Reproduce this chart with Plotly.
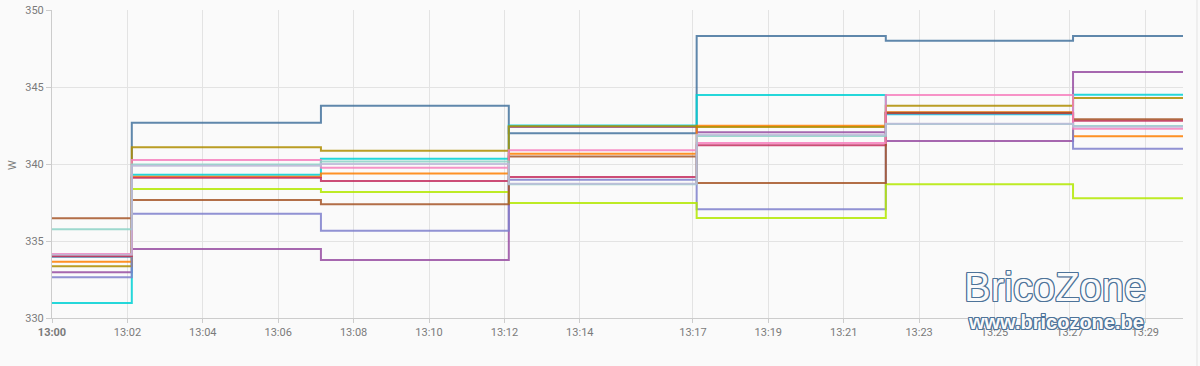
import plotly.graph_objects as go

# step change times (last entry = end of range, repeats last value)
times = ["2024-01-01 13:00:00", "2024-01-01 13:02:07", "2024-01-01 13:07:08",
         "2024-01-01 13:12:07", "2024-01-01 13:17:06", "2024-01-01 13:22:07",
         "2024-01-01 13:27:05", "2024-01-01 13:30:00"]

steel    = [333.98, 342.68, 343.79, 341.99, 348.31, 348.01, 348.31]
purple   = [332.97, 334.48, 333.77, 342.40, 342.06, 341.49, 345.97]
cyan     = [330.97, 339.31, 340.34, 342.50, 344.48, 343.23, 344.50]
orange   = [333.66, 339.18, 339.39, 340.67, 342.49, 343.36, 341.80]
olive    = [333.36, 341.08, 340.86, 342.45, 342.40, 343.79, 344.29]
lavender = [332.64, 336.77, 335.67, 338.98, 337.06, 343.28, 340.99]
lime     = [334.07, 338.38, 338.18, 337.47, 336.49, 338.68, 337.77]
crimson  = [334.03, 339.10, 338.90, 339.16, 341.21, 343.31, 342.81]
brown    = [336.47, 337.66, 337.38, 340.48, 338.77, 343.33, 342.90]
pink     = [334.16, 340.26, 339.76, 340.89, 341.36, 344.48, 342.29]
lightteal = [335.76, 339.96, 340.17, 338.68, 341.82, 342.60, 342.47]
lightlav = [334.10, 339.89, 340.00, 338.72, 341.90, 342.62, 342.42]

series = [
    ("steel", steel, "#44739e"),
    ("purple", purple, "#984ea3"),
    ("cyan", cyan, "#00d2d5"),
    ("orange", orange, "#ff7f00"),
    ("olive", olive, "#af8d00"),
    ("lavender", lavender, "#7f80cd"),
    ("lime", lime, "#b3e900"),
    ("crimson", crimson, "#c42e60"),
    ("brown", brown, "#a65628"),
    ("pink", pink, "#f781bf"),
    ("lightteal", lightteal, "#8dd3c7"),
    ("lightlav", lightlav, "#bebada"),
]

tick_vals = ["2024-01-01 13:00", "2024-01-01 13:02", "2024-01-01 13:04", "2024-01-01 13:06",
             "2024-01-01 13:08", "2024-01-01 13:10", "2024-01-01 13:12", "2024-01-01 13:14",
             "2024-01-01 13:17", "2024-01-01 13:19", "2024-01-01 13:21", "2024-01-01 13:23",
             "2024-01-01 13:25", "2024-01-01 13:27", "2024-01-01 13:29"]
tick_text = ["<b>13:00</b>", "13:02", "13:04", "13:06", "13:08", "13:10", "13:12", "13:14",
             "13:17", "13:19", "13:21", "13:23", "13:25", "13:27", "13:29"]

fig = go.Figure()
for name, vals, col in series:
    fig.add_trace(go.Scatter(
        x=times, y=vals + [vals[-1]], mode="lines", name=name,
        line=dict(shape="hv", width=2, color=col), opacity=0.85,
        showlegend=False))

grid = "#e3e3e3"
fig.update_layout(
    width=1200, height=366,
    margin=dict(l=52, r=17, t=10, b=48),
    paper_bgcolor="#fafafa", plot_bgcolor="#fafafa",
    font=dict(family="Roboto, sans-serif", size=11, color="#7a7a7a"),
    xaxis=dict(
        range=["2024-01-01 13:00:00", "2024-01-01 13:30:00"],
        tickvals=tick_vals, ticktext=tick_text, automargin=False,
        showgrid=True, gridcolor=grid, gridwidth=1,
        showline=True, linecolor="#cccccc", linewidth=1,
        ticks="outside", ticklen=4, tickcolor="#cccccc",
        zeroline=False),
    yaxis=dict(
        range=[330, 350], dtick=5, automargin=False,
        showgrid=True, gridcolor=grid, gridwidth=1,
        showline=True, linecolor="#cccccc", linewidth=1,
        ticks="outside", ticklen=5, tickcolor="#cccccc",
        zeroline=False),
)

# y-axis unit label
fig.add_annotation(text="W", xref="paper", yref="paper",
                   x=(12 - 52) / 1131, y=(318 - 165) / 308,
                   showarrow=False, textangle=-90, xanchor="center", yanchor="middle",
                   font=dict(family="Roboto, sans-serif", size=11, color="#7a7a7a"))

outline = ("1px 1px 0 #4d7399, -1px -1px 0 #4d7399, 1px -1px 0 #4d7399, -1px 1px 0 #4d7399, "
           "0 1px 0 #4d7399, 0 -1px 0 #4d7399, 1px 0 0 #4d7399, -1px 0 0 #4d7399")
fig.add_annotation(text="BricoZone", xref="paper", yref="paper",
                   x=(1055 - 52) / 1131, y=(318 - 287) / 308,
                   showarrow=False, xanchor="center", yanchor="middle",
                   font=dict(family="Liberation Sans, Arial", size=40, color="#fafafa",
                             shadow=outline))
fig.add_annotation(text="<b>www.bricozone.be</b>", xref="paper", yref="paper",
                   x=(1056 - 52) / 1131, y=(318 - 322) / 308,
                   showarrow=False, xanchor="center", yanchor="middle",
                   font=dict(family="Liberation Sans, Arial", size=20, color="#fafafa",
                             shadow=outline))

fig.add_shape(type="line", xref="paper", yref="paper",
              x0=(1197 - 52) / 1131, x1=(1197 - 52) / 1131,
              y0=(318 - 0) / 308, y1=(318 - 366) / 308,
              line=dict(color="#e3e3e3", width=1))

fig.write_html("out.html")
